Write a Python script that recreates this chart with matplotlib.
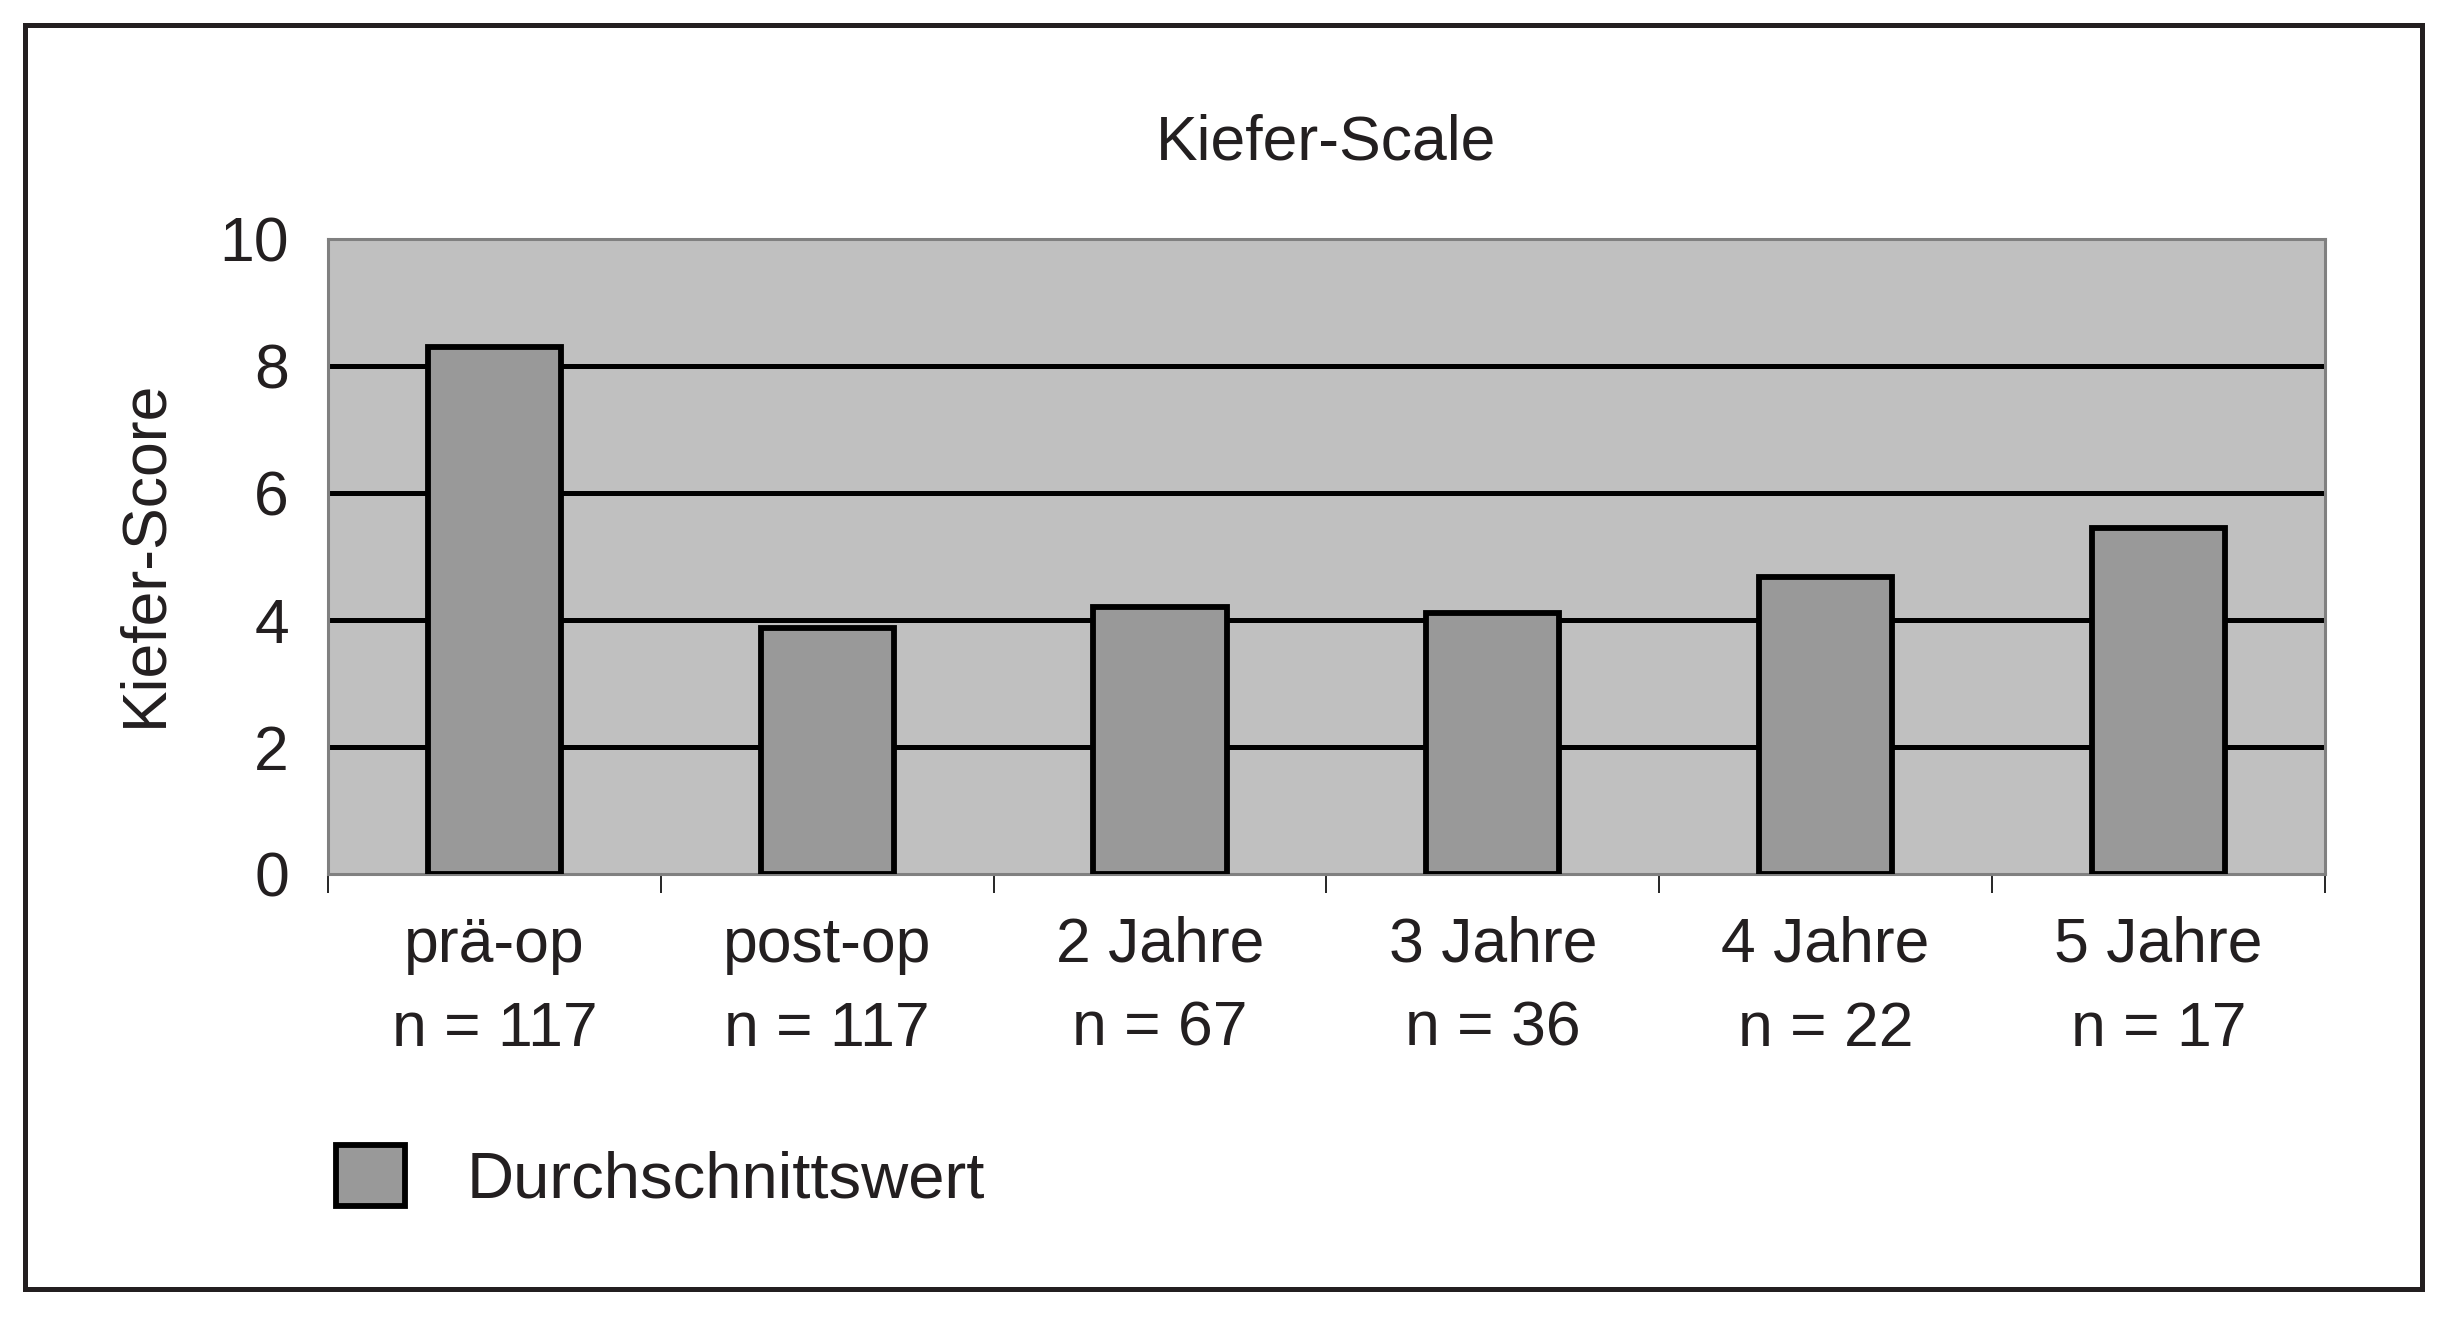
import matplotlib
matplotlib.use('Agg')
import matplotlib.pyplot as plt
from matplotlib.patches import Rectangle
import numpy as np

plt.rcParams['font.family'] = ['Liberation Sans', 'DejaVu Sans']

categories = ['prä-op', 'post-op', '2 Jahre', '3 Jahre', '4 Jahre', '5 Jahre']
n_values = [117, 117, 67, 36, 22, 17]
scores = [8.3, 3.87, 4.2, 4.11, 4.67, 5.44]
yticks = [0, 2, 4, 6, 8, 10]

txt = '#231f20'

fig = plt.figure(figsize=(24.47, 13.17), dpi=100)
ax = fig.add_axes([0.1340, 0.3364, 0.8161, 0.4822])

# outer frame around everything
fig.patches.append(Rectangle((25 / 2447, 1 - 1289 / 1317), (2422 - 25) / 2447, (1289 - 25) / 1317,
                             transform=fig.transFigure, fill=False, edgecolor=txt, linewidth=3.6))

x = np.arange(len(categories))
ax.set_facecolor('#c0c0c0')
bars = ax.bar(x, scores, width=0.4, color='#999999', edgecolor='black', linewidth=4.2,
              zorder=3, label='Durchschnittswert')

for yv in yticks[1:-1]:
    ax.axhline(yv, color='black', linewidth=3.6, zorder=2)

ax.set_xlim(-0.5, 5.5)
ax.set_ylim(0, 10)
ax.set_yticks(yticks)
ax.tick_params(axis='y', length=0, pad=28, labelsize=45, labelcolor=txt)

ax.set_xticks(x)
ax.set_xticklabels([f'{c}\nn = {n}' for c, n in zip(categories, n_values)], linespacing=1.55)
ax.set_xticks(np.arange(-0.5, 6, 1), minor=True)
ax.tick_params(axis='x', which='major', length=0, pad=30, labelsize=45, labelcolor=txt)
ax.tick_params(axis='x', which='minor', length=14, width=1.2, direction='out', color='black')

for s in ax.spines.values():
    s.set_color('#808080')
    s.set_linewidth(2.2)

ax.set_title('Kiefer-Scale', fontsize=45, color=txt, pad=57)
ax.set_ylabel('Kiefer-Score', fontsize=45, color=txt)
ax.yaxis.set_label_coords(-0.077, 0.505)

fig.legend(handles=[bars], labels=['Durchschnittswert'], loc='center left',
           bbox_to_anchor=(336 / 2447, 1 - 1178 / 1317), frameon=False, fontsize=47,
           handlelength=1.05, handleheight=1.05, handletextpad=0.95, borderpad=0,
           borderaxespad=0, labelcolor=txt)

fig.savefig('out.png', dpi=100, facecolor='white')
